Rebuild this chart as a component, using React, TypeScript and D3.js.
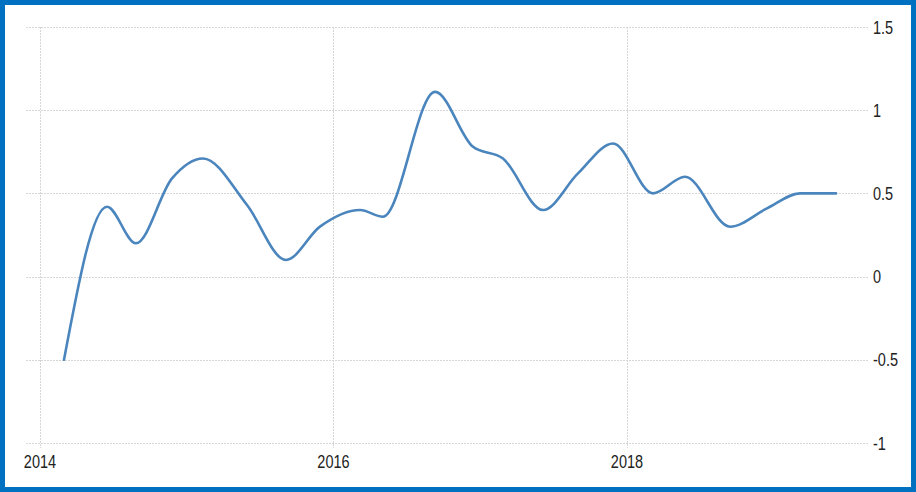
import React from "react";
import * as d3 from "d3";

const dates = [
  2014.164, 2014.457, 2014.654, 2014.9, 2015.111, 2015.411, 2015.676, 2015.908,
  2016.181, 2016.337, 2016.692, 2016.951, 2017.155, 2017.428, 2017.666, 2017.905,
  2018.177, 2018.395, 2018.702, 2018.954, 2019.179, 2019.424,
];
const values = [
  -0.5, 0.42, 0.2, 0.59, 0.71, 0.43, 0.1, 0.3,
  0.4, 0.36, 1.11, 0.78, 0.71, 0.4, 0.62, 0.8,
  0.5, 0.6, 0.3, 0.41, 0.5, 0.5,
];
const yTicks = [-1, -0.5, 0, 0.5, 1, 1.5];
const xTicks = [2014, 2016, 2018];

const W = 916;
const H = 492;

export default function App() {
  const x = d3.scaleLinear().domain([2013.905, 2019.649]).range([26, 869]);
  const y = d3.scaleLinear().domain([-1, 1.5]).range([443, 27]);
  const pts = dates.map((d, i) => [d, values[i]] as [number, number]);
  const line = d3
    .line<[number, number]>()
    .x((d) => x(d[0]))
    .y((d) => y(d[1]))
    .curve(d3.curveMonotoneX);
  const fmt = (v: number) => (v === 0 ? "0" : String(v));
  return (
    <svg
      width={W}
      height={H}
      style={{ position: "absolute", left: 0, top: 0, background: "#fff" }}
      fontFamily="'Liberation Sans', Arial, sans-serif"
    >
      <rect x={0} y={0} width={W} height={H} fill="#fff" />
      {yTicks.map((t) => (
        <line
          key={"h" + t}
          x1={26}
          x2={869}
          y1={Math.round(y(t)) + 0.5}
          y2={Math.round(y(t)) + 0.5}
          stroke="#d6d6d6"
          strokeDasharray="2,1"
        />
      ))}
      {xTicks.map((t) => (
        <line
          key={"v" + t}
          x1={Math.round(x(t)) + 0.5}
          x2={Math.round(x(t)) + 0.5}
          y1={27}
          y2={448}
          stroke="#d6d6d6"
          strokeDasharray="2,1"
        />
      ))}
      <path
        d={line(pts) || ""}
        fill="none"
        stroke="#4a85bd"
        strokeWidth={2.6}
        strokeLinejoin="round"
        strokeLinecap="round"
      />
      {yTicks.map((t) => (
        <text
          key={"yl" + t}
          transform={`translate(873,${y(t)}) scale(1,1.25)`}
          dy={5.2}
          fontSize={14.5}
          fill="#222"
        >
          {fmt(t)}
        </text>
      ))}
      {xTicks.map((t) => (
        <text
          key={"xl" + t}
          transform={`translate(${x(t)},468) scale(1,1.25)`}
          textAnchor="middle"
          fontSize={14.5}
          fill="#222"
        >
          {t}
        </text>
      ))}
      <rect
        x={2.5}
        y={2.5}
        width={W - 5}
        height={H - 5}
        fill="none"
        stroke="#0070c0"
        strokeWidth={5}
      />
    </svg>
  );
}
